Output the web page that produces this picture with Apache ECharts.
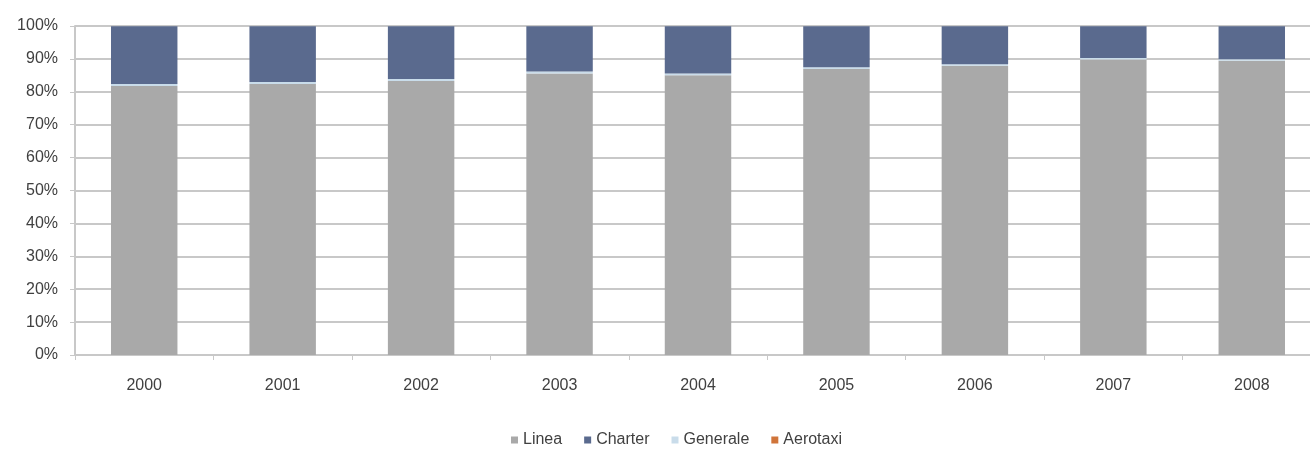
<!DOCTYPE html>
<html>
<head>
<meta charset="utf-8">
<script src="https://cdn.jsdelivr.net/npm/echarts@6/dist/echarts.min.js"></script>
<style>
  html, body { margin: 0; padding: 0; background: #fff; }
  #chart { width: 1310px; height: 449px; }
</style>
</head>
<body>
<div id="chart"></div>
<script>
// anni
const years = ['2000', '2001', '2002', '2003', '2004', '2005', '2006', '2007', '2008']
// quote percentuali per tipo di traffico
const linea = [81.8, 82.4, 83.3, 85.6, 85.0, 86.9, 87.9, 89.8, 89.4]
const generale = [0.6, 0.6, 0.6, 0.6, 0.6, 0.6, 0.5, 0.5, 0.5]
const charter = [17.5, 16.9, 16.0, 13.7, 14.3, 12.4, 11.5, 9.6, 10.0]
const aerotaxi = [0.05, 0.05, 0.05, 0.05, 0.05, 0.05, 0.05, 0.05, 0.05]
const yTicks = [0, 10, 20, 30, 40, 50, 60, 70, 80, 90, 100]

const font = "'Liberation Sans', Arial, sans-serif"
const chart = echarts.init(document.getElementById('chart'))

function bar(name, data, color) {
  return {
    name: name,
    type: 'bar',
    stack: 'tot',
    barWidth: '48%',
    data: data,
    itemStyle: { color: color },
    emphasis: { disabled: true }
  }
}

chart.setOption({
  animation: false,
  textStyle: { fontFamily: font },
  legend: {
    top: 427,
    left: 506,
    itemWidth: 7,
    itemHeight: 7,
    itemGap: 22,
    icon: 'rect',
    textStyle: { color: '#404040', fontSize: 16, fontFamily: font },
    data: ['Linea', 'Charter', 'Generale', 'Aerotaxi']
  },
  grid: {
    left: 75,
    width: 1246,
    top: 26,
    height: 329,
    outerBoundsMode: 'none'
  },
  xAxis: {
    type: 'category',
    data: years,
    axisLine: { lineStyle: { color: '#c8c8c8', width: 2 } },
    axisTick: { show: true, length: 5, lineStyle: { color: '#c8c8c8' } },
    axisLabel: { color: '#404040', fontSize: 16, margin: 23 }
  },
  yAxis: {
    type: 'value',
    min: 0,
    max: 100,
    interval: 10,
    axisLine: { show: true, lineStyle: { color: '#c8c8c8', width: 2 } },
    axisTick: { show: true, length: 5, lineStyle: { color: '#c8c8c8' } },
    axisLabel: {
      color: '#404040',
      fontSize: 16,
      margin: 17,
      formatter: function (v) { return yTicks.indexOf(v) >= 0 ? v + '%' : '' }
    },
    splitLine: { lineStyle: { color: '#c8c8c8', width: 2 } }
  },
  series: [
    bar('Linea', linea, '#a9a9a9'),
    bar('Generale', generale, '#c9dcea'),
    bar('Charter', charter, '#5a6a8e'),
    bar('Aerotaxi', aerotaxi, '#d0743a')
  ]
})
</script>
</body>
</html>
